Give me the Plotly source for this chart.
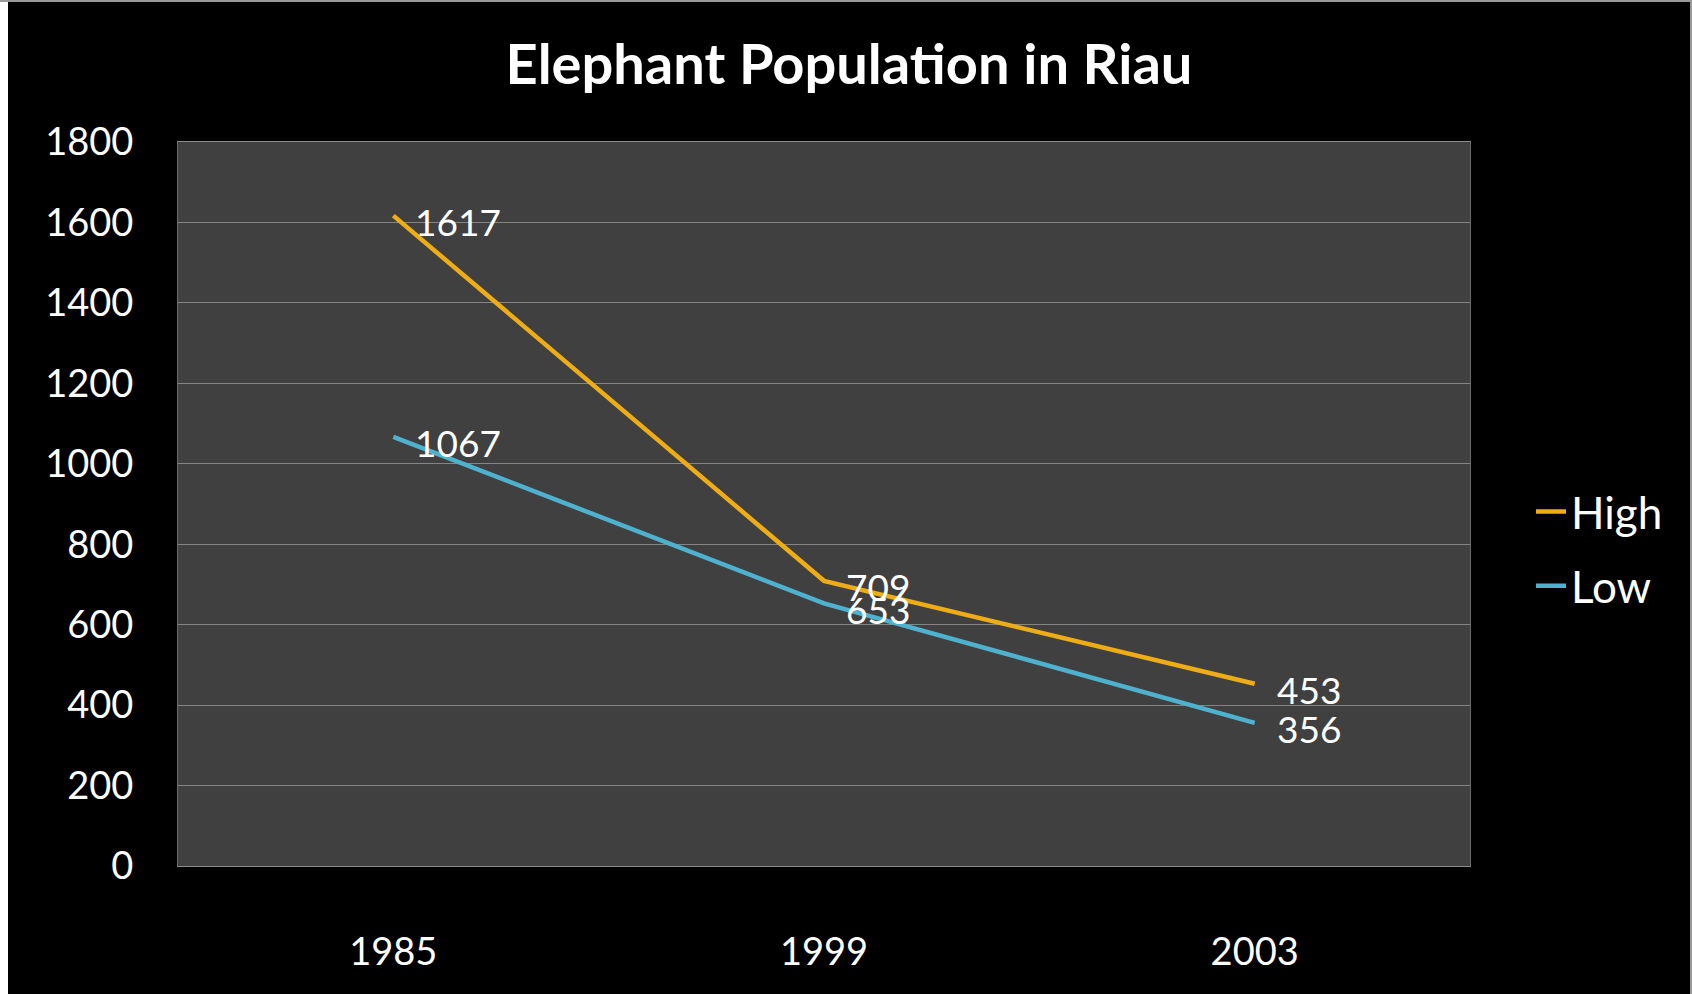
import plotly.graph_objects as go

years = ["1985", "1999", "2003"]
high = [1617, 709, 453]
low = [1067, 653, 356]
series_names = ["High", "Low"]
title_text = "Elephant Population in Riau"
y_ticks = [0, 200, 400, 600, 800, 1000, 1200, 1400, 1600, 1800]

W, H = 1692, 994
L, R, T, B = 178, 222, 142, 128
pw, ph = W - L - R, H - T - B

def px_x(p):
    return (p - L) / pw

def px_y(p):
    return (H - B - p) / ph

FONT = "Lato"
colors = ["#EEAD17", "#4EB2CE"]

fig = go.Figure()
annotations = []
for i, (name, vals) in enumerate(zip(series_names, [high, low])):
    fig.add_trace(go.Scatter(
        x=years, y=vals, name=name, mode="lines",
        line=dict(color=colors[i], width=4.5),
        legendgroup=name, cliponaxis=False,
    ))
    for k, v in enumerate(vals):
        annotations.append(dict(
            x=k, y=v, xref="x", yref="y", text=str(v), showarrow=False,
            xanchor="left", yanchor="middle", xshift=20, yshift=-6,
            font=dict(family=FONT, size=37, color="white"),
        ))

fig.update_layout(
    width=W, height=H,
    margin=dict(l=L, r=R, t=T, b=B, pad=0),
    paper_bgcolor="black", plot_bgcolor="#404040",
    title=dict(text=f"<b>{title_text}</b>", x=849 / W, xanchor="center",
               y=1 - 64 / H, yanchor="middle",
               font=dict(family=FONT, size=56, color="white")),
    showlegend=True,
    legend=dict(x=px_x(1531), xanchor="left", y=px_y(549), yanchor="middle",
                font=dict(family=FONT, size=44, color="white"),
                bgcolor="rgba(0,0,0,0)", traceorder="grouped", tracegroupgap=14,
                itemwidth=30),
    xaxis=dict(type="category", range=[-0.5, 2.5], showgrid=False,
               showline=True, linecolor="#8a8a8a", linewidth=1, mirror=True,
               ticks="", ticklabelstandoff=52,
               tickfont=dict(family=FONT, size=38, color="white")),
    yaxis=dict(range=[0, 1800], tickvals=y_ticks, showgrid=True,
               gridcolor="#858585", gridwidth=1, zeroline=False,
               showline=True, linecolor="#6a6a6a", linewidth=1, mirror=True,
               ticks="", ticklabelstandoff=36,
               tickfont=dict(family=FONT, size=38, color="white")),
    annotations=annotations,
    shapes=[
        dict(type="rect", xref="paper", yref="paper", x0=px_x(0), x1=px_x(8),
             y0=px_y(H), y1=px_y(0), fillcolor="white", line=dict(width=0), layer="above"),
        dict(type="rect", xref="paper", yref="paper", x0=px_x(0), x1=px_x(W),
             y0=px_y(2), y1=px_y(0), fillcolor="#9a9a9a", line=dict(width=0), layer="above"),
        dict(type="rect", xref="paper", yref="paper", x0=px_x(W - 2), x1=px_x(W),
             y0=px_y(H), y1=px_y(0), fillcolor="#9a9a9a", line=dict(width=0), layer="above"),
    ],
)

fig.write_html("out.html")
